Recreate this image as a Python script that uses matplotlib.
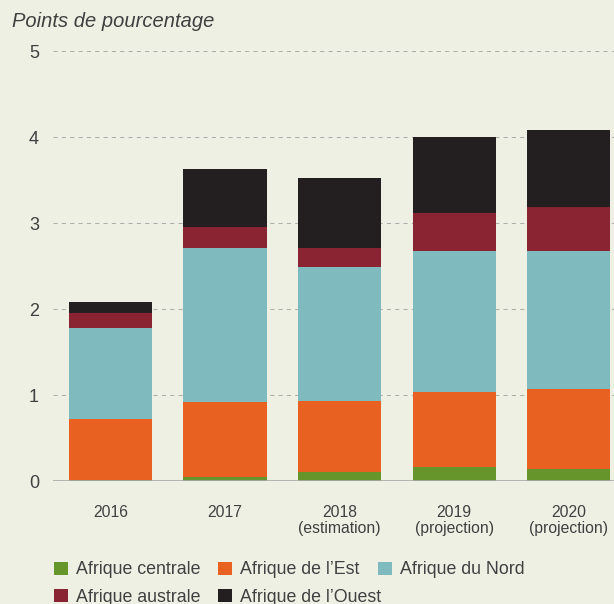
import matplotlib
matplotlib.use("Agg")
import matplotlib.pyplot as plt
from matplotlib.patches import Patch
import numpy as np

years = ["2016", "2017", "2018\n(estimation)", "2019\n(projection)", "2020\n(projection)"]
series_names = ["Afrique centrale", "Afrique de l\u2019Est", "Afrique du Nord",
                "Afrique australe", "Afrique de l\u2019Ouest"]
centrale = [0.016, 0.047, 0.105, 0.16, 0.14]
est = [0.705, 0.872, 0.825, 0.875, 0.93]
nord = [1.058, 1.79, 1.56, 1.635, 1.60]
australe = [0.174, 0.244, 0.22, 0.45, 0.52]
ouest = [0.128, 0.675, 0.81, 0.88, 0.89]
colors = ["#66952B", "#E86120", "#7FBBBE", "#8A2433", "#231F20"]
yticks = [0, 1, 2, 3, 4, 5]

BG = "#EFF0E4"
TXT = "#404040"
plt.rcParams["font.family"] = ["Liberation Sans", "DejaVu Sans"]
plt.rcParams["lines.scale_dashes"] = False

fig = plt.figure(figsize=(6.14, 6.04), dpi=100, facecolor=BG)
ax = fig.add_axes([53 / 614, 1 - 481 / 604, 1 - 53 / 614, (481 - 51) / 604])
ax.set_facecolor(BG)

x = np.arange(len(years))
bottom = np.zeros(len(years))
for vals, c in zip([centrale, est, nord, australe, ouest], colors):
    ax.bar(x, vals, width=0.725, bottom=bottom, color=c, zorder=2, linewidth=0)
    bottom += np.array(vals)

ax.set_ylim(0, 5)
ax.set_xlim(-0.502, 4.397)
ax.set_yticks(yticks)
ax.set_xticks(x)
ax.set_xticklabels(years, fontsize=11.3, color=TXT, linespacing=1.12)
ax.tick_params(axis="x", length=0, pad=17)
ax.tick_params(axis="y", length=0, pad=10, labelsize=13, labelcolor=TXT)
for t in yticks[1:]:
    ax.axhline(t, color="#AFAFAF", lw=0.75, linestyle=(0, (3, 3)), zorder=1)
ax.axhline(0, color="#A8A8A8", lw=1.2, zorder=3)
for s in ax.spines.values():
    s.set_visible(False)

fig.text(12 / 614, 1 - 27 / 604, "Points de pourcentage", fontsize=14.5,
         style="italic", color=TXT, va="baseline", ha="left")

handles = [Patch(facecolor=c, edgecolor="none") for c in colors]
common = dict(frameon=False, fontsize=12.8, handlelength=0.79, handleheight=0.79,
              handletextpad=0.45, columnspacing=1.0, borderpad=0, borderaxespad=0,
              labelcolor=TXT, loc="center left")
fig.legend(handles[:3], series_names[:3], ncol=3,
           bbox_to_anchor=(54 / 614, 1 - 570 / 604), **common)
fig.legend(handles[3:], series_names[3:], ncol=2,
           bbox_to_anchor=(54 / 614, 1 - 597 / 604), **common)

fig.savefig("out.png", dpi=100, facecolor=BG)
